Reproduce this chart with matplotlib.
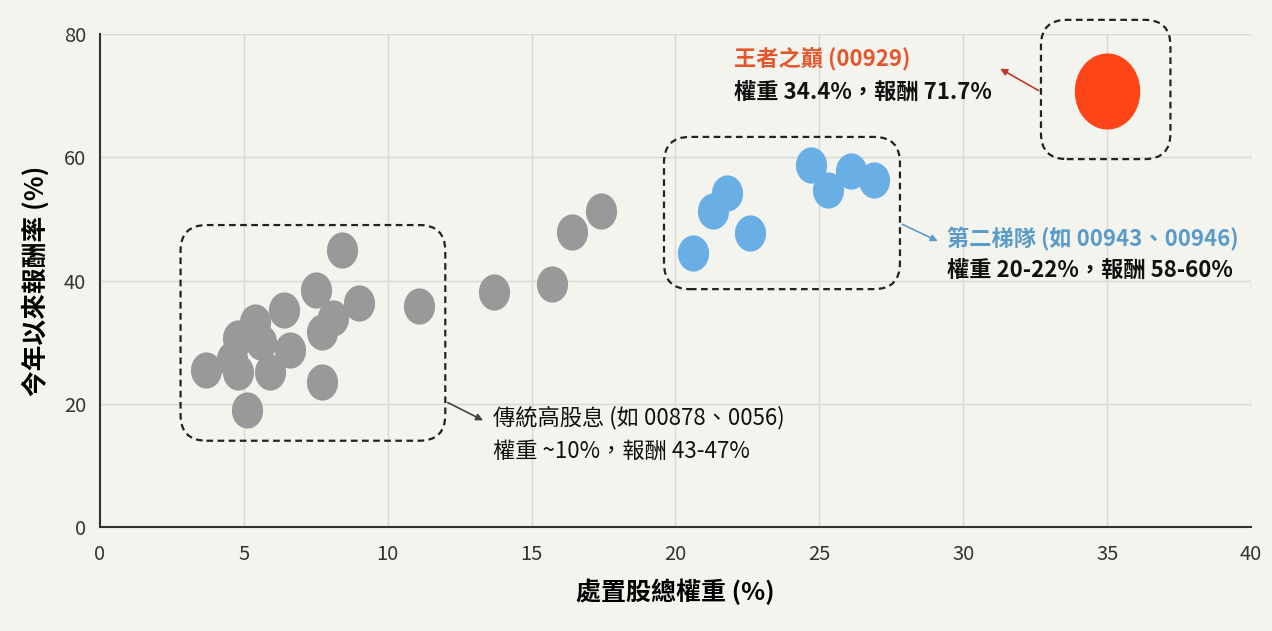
import matplotlib
matplotlib.use("Agg")
import matplotlib.pyplot as plt
import numpy as np
from matplotlib.patches import FancyBboxPatch
from matplotlib.path import Path

plt.rcParams["font.family"] = ["Noto Sans CJK TC", "DejaVu Sans"]

# Data: disposal-stock weight (%) vs YTD return (%)
gray_x = [3.7, 5.1, 8.4, 7.5, 9.0, 11.1, 6.4, 8.1, 5.4, 7.7, 4.8, 5.6, 6.6, 4.6,
          4.8, 5.9, 7.7, 13.7, 15.7, 16.4, 17.4]
gray_y = [25.5, 19.0, 44.9, 38.4, 36.4, 35.8, 35.2, 33.9, 33.3, 31.7, 30.6, 30.1,
          28.7, 27.3, 25.2, 25.1, 23.6, 38.2, 39.4, 47.8, 51.3]
blue_x = [20.6, 21.3, 21.8, 22.6, 24.7, 25.3, 26.1, 26.9]
blue_y = [44.4, 51.3, 54.2, 47.7, 58.8, 54.7, 57.7, 56.3]
red_x = [35.0]
red_y = [70.8]

x_ticks = [0, 5, 10, 15, 20, 25, 30, 35, 40]
y_ticks = [0, 20, 40, 60, 80]

bg = "#f4f4ef"
gray_c = "#999999"
blue_c = "#6aaee6"
red_c = "#ff4518"

# slightly tall ellipse marker (the source image is stretched vertically)
t = np.linspace(0, 2 * np.pi, 60)
ellipse = Path(np.column_stack([np.cos(t) * 0.86, np.sin(t)]), closed=True)

fig = plt.figure(figsize=(12.72, 6.31), dpi=100, facecolor=bg)
ax = fig.add_axes([0.0786, 0.1648, 0.9049, 0.7813], facecolor=bg)

ax.scatter(gray_x, gray_y, s=680, marker=ellipse, color=gray_c, lw=0, zorder=3)
ax.scatter(blue_x, blue_y, s=680, marker=ellipse, color=blue_c, lw=0, zorder=3)
ax.scatter(red_x, red_y, s=3000, marker=ellipse, color=red_c, lw=0, zorder=3)

ax.set_xlim(0, 40)
ax.set_ylim(0, 80)
ax.set_xticks(x_ticks)
ax.set_yticks(y_ticks)
ax.grid(True, color="#d8d8d4", lw=1)
ax.set_axisbelow(True)
for side in ["top", "right"]:
    ax.spines[side].set_visible(False)
for side in ["left", "bottom"]:
    ax.spines[side].set_color("#333333")
    ax.spines[side].set_linewidth(1.5)
ax.tick_params(length=0, labelsize=14.5, labelcolor="#333333")
ax.tick_params(axis="x", pad=12)
ax.tick_params(axis="y", pad=10)

ax.set_xlabel("處置股總權重 (%)", fontsize=18, fontweight="bold", labelpad=10)
ax.set_ylabel("今年以來報酬率 (%)", fontsize=18.5, fontweight="bold", labelpad=10)

# dashed rounded group boxes (data units, corrected for axis aspect)
aspect = 4.67
boxes = [(2.8, 14.0, 9.2, 35.0), (19.6, 38.6, 8.2, 24.7), (32.7, 59.7, 4.5, 22.6)]
for bx, by, bw, bh in boxes:
    ax.add_patch(FancyBboxPatch((bx, by), bw, bh,
                                boxstyle="round,pad=0,rounding_size=0.9",
                                mutation_aspect=aspect, fill=False,
                                ec="#222222", lw=1.6, ls=(0, (3, 2)),
                                clip_on=False, zorder=4))

# annotations
ax.annotate("", xy=(31.2, 74.6), xytext=(32.7, 70.6),
            arrowprops=dict(arrowstyle="-|>", color="#c0392b", lw=1.2,
                            mutation_scale=10), annotation_clip=False)
ax.text(22.05, 76.0, "王者之巔 (00929)", color="#e4572e", fontsize=16,
        fontweight="bold", va="center")
ax.text(22.05, 70.5, "權重 34.4%，報酬 71.7%", color="#111111", fontsize=16,
        fontweight="bold", va="center")

ax.annotate("", xy=(13.4, 17.1), xytext=(12.0, 20.4),
            arrowprops=dict(arrowstyle="-|>", color="#444444", lw=1.2,
                            mutation_scale=10))
ax.text(13.65, 17.8, "傳統高股息 (如 00878、0056)", color="#111111",
        fontsize=16, fontweight="medium", va="center")
ax.text(13.65, 12.3, "權重 ~10%，報酬 43-47%", color="#111111",
        fontsize=16, fontweight="medium", va="center")

ax.annotate("", xy=(29.2, 46.2), xytext=(27.8, 49.3),
            arrowprops=dict(arrowstyle="-|>", color="#5b9bc8", lw=1.2,
                            mutation_scale=10))
ax.text(29.45, 46.6, "第二梯隊 (如 00943、00946)", color="#5b9bc8",
        fontsize=16, fontweight="bold", va="center")
ax.text(29.45, 41.6, "權重 20-22%，報酬 58-60%", color="#111111",
        fontsize=16, fontweight="bold", va="center")

fig.savefig("out.png", dpi=100, facecolor=bg)
